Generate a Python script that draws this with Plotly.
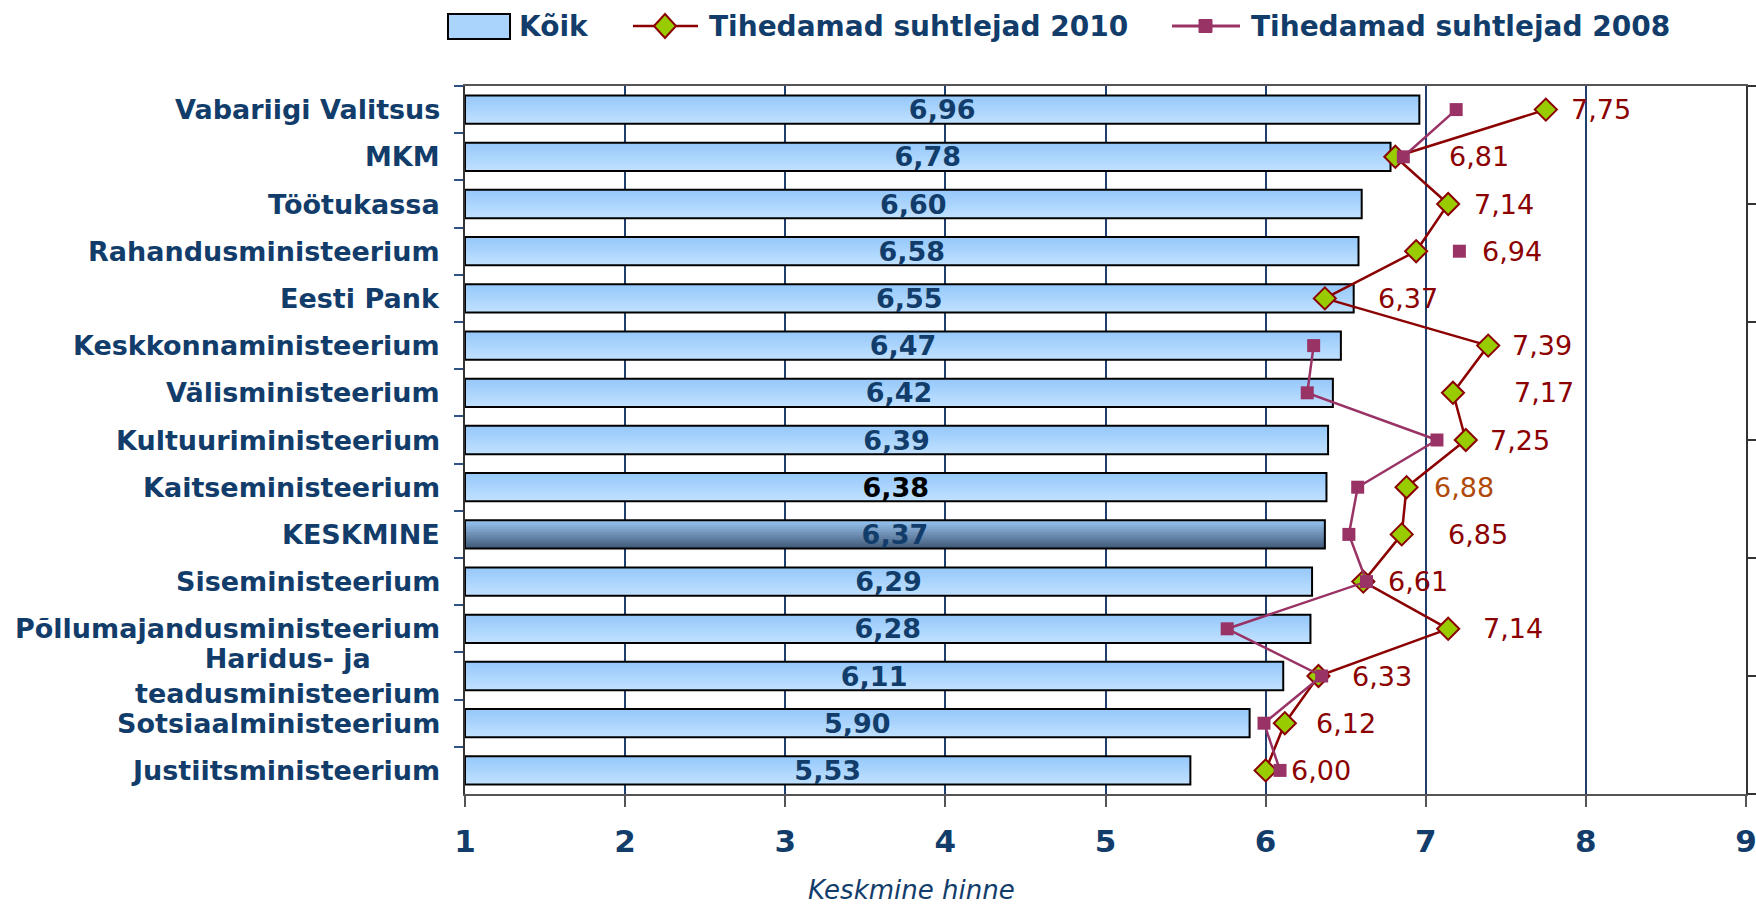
import plotly.graph_objects as go

# ---------------- data ----------------
categories = [
    "Vabariigi Valitsus", "MKM", "Töötukassa", "Rahandusministeerium", "Eesti Pank",
    "Keskkonnaministeerium", "Välisministeerium", "Kultuuriministeerium",
    "Kaitseministeerium", "KESKMINE", "Siseministeerium",
    "Põllumajandusministeerium", "Haridus- ja<br>teadusministeerium",
    "Sotsiaalministeerium", "Justiitsministeerium",
]
koik = [6.96, 6.78, 6.60, 6.58, 6.55, 6.47, 6.42, 6.39, 6.38, 6.37, 6.29, 6.28, 6.11, 5.90, 5.53]
tihedamad_2010 = [7.75, 6.81, 7.14, 6.94, 6.37, 7.39, 7.17, 7.25, 6.88, 6.85, 6.61, 7.14, 6.33, 6.12, 6.00]
tihedamad_2008 = [7.19, 6.86, None, 7.21, None, 6.30, 6.26, 7.07, 6.575, 6.52, 6.63, 5.76, 6.35, 5.99, 6.09]
x_ticks = [1, 2, 3, 4, 5, 6, 7, 8, 9]
series_names = ["Kõik", "Tihedamad suhtlejad 2010", "Tihedamad suhtlejad 2008"]
x_title = "Keskmine hinne"

# ---------------- style / geometry ----------------
W, H = 1756, 904
X0, X1 = 465, 1746            # plot area in page pixels
Y0, Y1 = 86, 794
L, T = X0, Y0
R, B = W - X1, H - Y1
PW, PH = X1 - X0, Y1 - Y0

FONT = "DejaVu Sans"
NAVY = "#123D6B"
DARKRED = "#8B0000"
PLUM = "#993366"
GREEN = "#99CC00"
BAR_TOP, BAR_BOTTOM = (148, 200, 250), (194, 225, 255)
AVG_TOP, AVG_MID, AVG_BOTTOM = (150, 200, 245), (115, 148, 185), (62, 88, 118)
N_BANDS = 12
BAR_W = 0.6
label_shift_px = [23, 52, 24, 64, 51, 22, 59, 22, 25, 44, 23, 33, 32, 29, 23]
label_colors = [DARKRED] * 8 + ["#B04A0A"] + [DARKRED] * 6


def fmt(v):
    return f"{v:.2f}".replace(".", ",")


def pxx(x):
    return (x - X0) / PW


def pxy(y):
    return (Y1 - y) / PH


def mix(a, b, t):
    return "rgb({},{},{})".format(*[round(a[i] + (b[i] - a[i]) * t) for i in range(3)])


def avg_color(t):
    if t < 0.45:
        return mix(AVG_TOP, AVG_MID, t / 0.45)
    return mix(AVG_MID, AVG_BOTTOM, (t - 0.45) / 0.55)


bar_text_colors = ["#000000" if fmt(v) == "6,38" else NAVY for v in koik]
bar_len = [v - 1 for v in koik]

fig = go.Figure()

# vertical gradient of the bars: each band covers from its start to the bar bottom
band_w = BAR_W / N_BANDS
for k in range(N_BANDS):
    t = (k + 0.5) / N_BANDS
    cols = [avg_color(t) if c == "KESKMINE" else mix(BAR_TOP, BAR_BOTTOM, t) for c in categories]
    fig.add_trace(go.Bar(
        y=categories, x=bar_len, base=1, orientation="h",
        width=BAR_W - k * band_w, offset=-BAR_W / 2 + k * band_w,
        marker=dict(color=cols, line=dict(width=0)),
        showlegend=False, hoverinfo="skip",
    ))

# outlined bars with value labels
fig.add_trace(go.Bar(
    y=categories, x=bar_len, base=1, orientation="h",
    width=BAR_W, offset=-BAR_W / 2, name=series_names[0],
    marker=dict(color="rgba(0,0,0,0)", line=dict(color="#000000", width=2)),
    text=[fmt(v) for v in koik], textposition="inside", insidetextanchor="middle",
    constraintext="none",
    textfont=dict(family=FONT, size=27, color=bar_text_colors, weight="bold"),
    showlegend=False,
))

fig.add_trace(go.Scatter(
    y=categories, x=tihedamad_2010, name=series_names[1], mode="lines+markers",
    line=dict(color=DARKRED, width=2.5),
    marker=dict(symbol="diamond", size=17, color=GREEN, line=dict(color=DARKRED, width=2)),
    showlegend=False,
))

fig.add_trace(go.Scatter(
    y=categories, x=tihedamad_2008, name=series_names[2], mode="lines+markers",
    connectgaps=False,
    line=dict(color=PLUM, width=2.5),
    marker=dict(symbol="square", size=13, color=PLUM),
    showlegend=False,
))

# empty trace so the secondary (right) axis is drawn
fig.add_trace(go.Scatter(x=[None], y=[None], yaxis="y2", showlegend=False, hoverinfo="skip"))

annotations = []
for c in categories:
    annotations.append(dict(
        x=0, xref="paper", y=c, yref="y", xanchor="right", yanchor="middle",
        xshift=-23, text=c, showarrow=False, align="center",
        font=dict(family=FONT, size=27, color=NAVY, weight="bold"),
    ))
for c, v, s, col in zip(categories, tihedamad_2010, label_shift_px, label_colors):
    annotations.append(dict(
        x=v, xref="x", y=c, yref="y", xanchor="left", yanchor="middle",
        xshift=s, text=fmt(v), showarrow=False,
        font=dict(family=FONT, size=27, color=col),
    ))
annotations.append(dict(
    x=pxx(911), xref="paper", y=pxy(890), yref="paper", xanchor="center", yanchor="middle",
    text=x_title, showarrow=False,
    font=dict(family=FONT, size=26, color=NAVY, style="italic"),
))

# legend (drawn manually to match the original glyph sizes)
LEG_Y = 26
legend_font = dict(family=FONT, size=28, color=NAVY, weight="bold")
shapes = [
    dict(type="rect", xref="paper", yref="paper",
         x0=pxx(448), x1=pxx(510), y0=pxy(39), y1=pxy(14),
         fillcolor=mix(BAR_TOP, BAR_BOTTOM, 0.5), line=dict(color="#000000", width=2)),
    dict(type="line", xref="paper", yref="paper",
         x0=pxx(633), x1=pxx(698), y0=pxy(LEG_Y), y1=pxy(LEG_Y),
         line=dict(color=DARKRED, width=2.5)),
    dict(type="path", xref="paper", yref="paper",
         path=(f"M {pxx(665 - 11)},{pxy(LEG_Y)} L {pxx(665)},{pxy(LEG_Y - 12)} "
               f"L {pxx(665 + 11)},{pxy(LEG_Y)} L {pxx(665)},{pxy(LEG_Y + 12)} Z"),
         fillcolor=GREEN, line=dict(color=DARKRED, width=2)),
    dict(type="line", xref="paper", yref="paper",
         x0=pxx(1172), x1=pxx(1240), y0=pxy(LEG_Y), y1=pxy(LEG_Y),
         line=dict(color=PLUM, width=3)),
    dict(type="rect", xref="paper", yref="paper",
         x0=pxx(1199), x1=pxx(1212), y0=pxy(LEG_Y + 6.5), y1=pxy(LEG_Y - 6.5),
         fillcolor=PLUM, line=dict(color=PLUM, width=1)),
]
for name, xpos in zip(series_names, [517, 707, 1249]):
    annotations.append(dict(
        x=pxx(xpos), xref="paper", y=pxy(LEG_Y), yref="paper",
        xanchor="left", yanchor="middle", text=name, showarrow=False,
        font=legend_font,
    ))

fig.update_layout(
    width=W, height=H,
    margin=dict(l=L, r=R, t=T, b=B, pad=0, autoexpand=False),
    paper_bgcolor="white", plot_bgcolor="white",
    font=dict(family=FONT, color=NAVY),
    barmode="overlay",
    xaxis=dict(
        range=[1, 9], tickmode="array", tickvals=x_ticks, ticktext=[str(t) for t in x_ticks],
        showgrid=True, gridcolor="#1F3F6F", gridwidth=2, zeroline=False,
        showline=True, linecolor="#555555", linewidth=2, mirror=True,
        ticks="outside", ticklen=11, tickcolor="#555555", tickwidth=1.5,
        tickfont=dict(family=FONT, size=31, color=NAVY, weight="bold"),
        ticklabelstandoff=8, ticklabeloverflow="allow", automargin=False,
    ),
    yaxis=dict(
        type="category", categoryorder="array", categoryarray=categories,
        range=[len(categories) - 0.5, -0.5],
        showticklabels=False, ticks="outside", tickson="boundaries",
        ticklen=9, tickcolor="#2E5283", tickwidth=2,
        showline=True, linecolor="#333333", linewidth=2, showgrid=False,
        automargin=False,
    ),
    yaxis2=dict(
        overlaying="y", side="right", range=[0, 6], tickmode="linear", tick0=0, dtick=1,
        ticks="outside", ticklen=9, tickcolor="#333333", tickwidth=1.5,
        showticklabels=False, showgrid=False, zeroline=False,
        showline=True, linecolor="#333333", linewidth=2, automargin=False,
    ),
    annotations=annotations,
    shapes=shapes,
)

# remove the browser's default 8px page margin so the figure fills the window exactly
fig.write_html(
    "out.html",
    config={"displayModeBar": False},
    post_script="document.body.style.margin='0';",
)
